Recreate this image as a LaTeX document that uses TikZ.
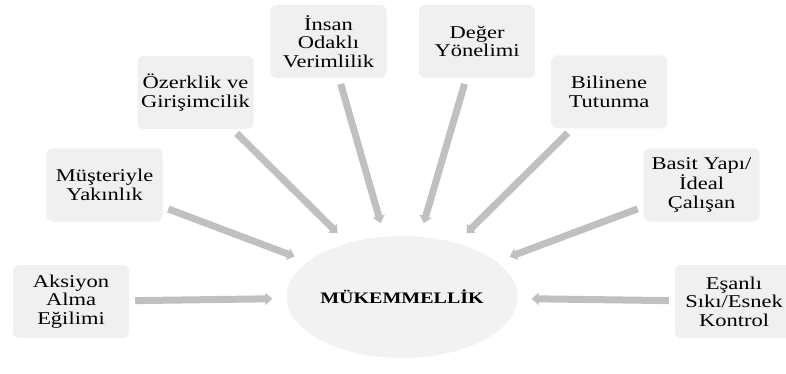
\documentclass[tikz,border=0pt]{standalone}
\usepackage{fontspec}
\setmainfont{Liberation Serif}[FakeStretch=1.25]
\usetikzlibrary{arrows.meta,shapes.geometric}
\definecolor{boxfill}{HTML}{F0F0F0}
\definecolor{ellfill}{HTML}{F2F2F2}
\definecolor{arrowgray}{HTML}{C0C0C0}
\begin{document}
\begin{tikzpicture}[x=1pt,y=-1pt,
  factor/.style={fill=boxfill, rounded corners=6pt, minimum width=116pt,
    minimum height=73pt, align=center, inner sep=0pt,
    font=\fontsize{18}{18.5}\selectfont},
  core/.style={ellipse, fill=ellfill, minimum width=224pt, minimum height=122pt,
    inner sep=0pt, font=\bfseries\fontsize{16}{18}\selectfont},
  pull/.style={draw=arrowgray, line width=7pt,
    -{Triangle[width=12pt,length=7pt]}, shorten <=6pt, shorten >=14pt}
]
\useasboundingbox (0,0) rectangle (786,374);

% central concept
\node[core] (ell) at (402,297) {MÜKEMMELLİK};

% surrounding factors
\node[factor] (aks) at (71,301.5)   {Aksiyon\\Alma\\Eğilimi};
\node[factor] (mus) at (104.5,185)  {Müşteriyle\\Yakınlık};
\node[factor] (oze) at (195.5,92.5) {Özerklik ve\\Girişimcilik};
\node[factor] (ins) at (328.5,41.5) {İnsan\\Odaklı\\Verimlilik};
\node[factor] (deg) at (477,41.5)   {Değer\\Yönelimi};
\node[factor] (bil) at (609,92)     {Bilinene\\Tutunma};
\node[factor] (bas) at (701.5,185)  {Basit Yapı/\\İdeal\\Çalışan};
\node[factor, minimum width=118pt] (esa) at (734,301.5) {Eşanlı\\Sıkı/Esnek\\Kontrol};

% arrows into the centre
\draw[pull] (aks) -- (ell);
\draw[pull] (mus) -- (ell);
\draw[pull] (oze) -- (ell);
\draw[pull] (ins) -- (ell);
\draw[pull] (deg) -- (ell);
\draw[pull] (bil) -- (ell);
\draw[pull] (bas) -- (ell);
\draw[pull] (esa) -- (ell);
\end{tikzpicture}
\end{document}
